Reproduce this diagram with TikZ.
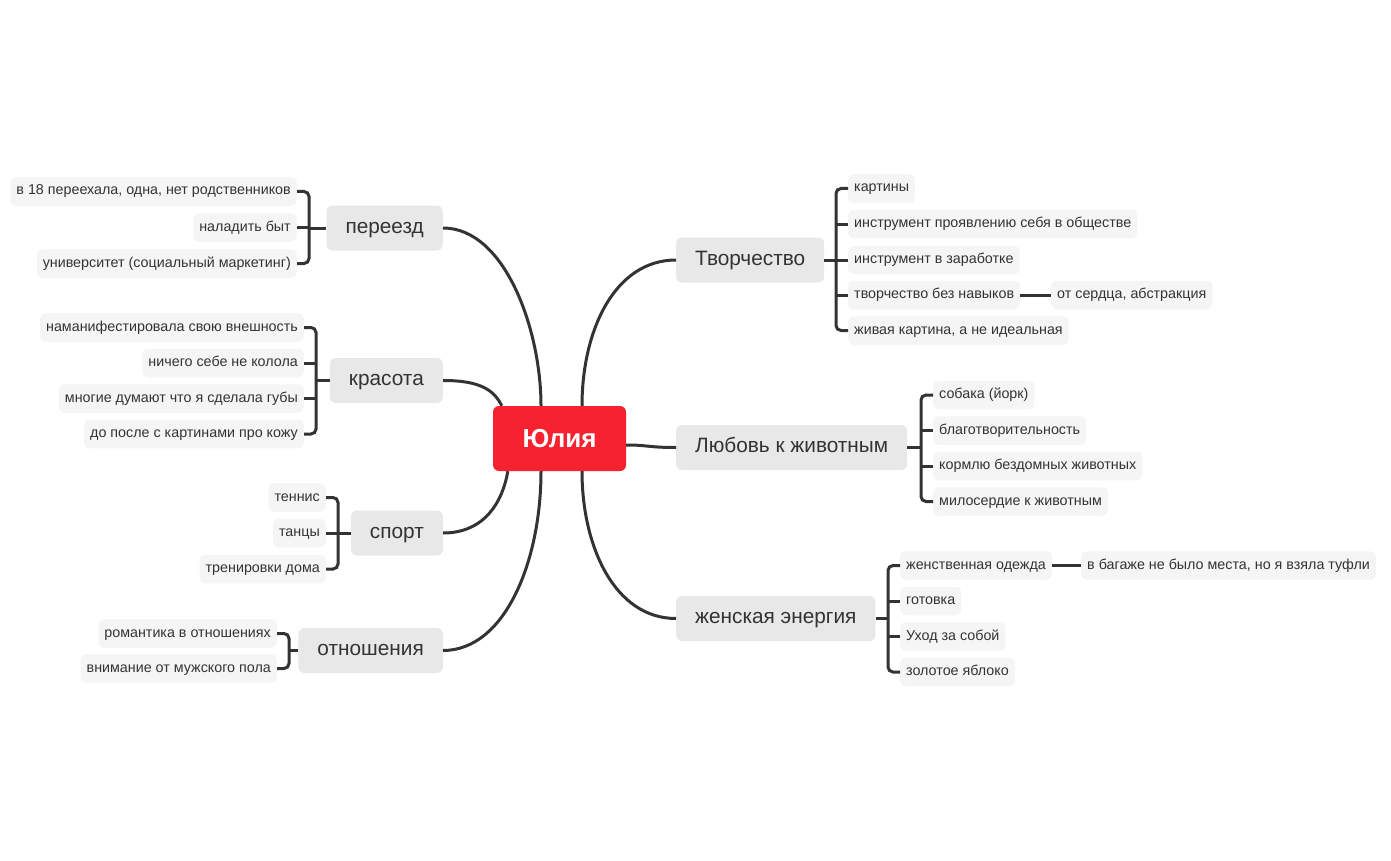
\documentclass[tikz,border=0pt]{standalone}
\usepackage{fontspec}
\setmainfont{Liberation Sans}
\usetikzlibrary{calc}
\definecolor{ink}{HTML}{333333}
\definecolor{leaffill}{HTML}{F5F5F5}
\definecolor{brfill}{HTML}{E8E8E8}
\definecolor{rootred}{HTML}{F7222F}
\tikzset{
  leaf/.style={fill=leaffill, rounded corners=5pt, inner xsep=6pt, inner ysep=0pt,
    minimum height=28.5pt, text height=10pt, text depth=3pt, text=ink,
    font=\fontsize{14.3}{16}\selectfont},
  branch/.style={fill=brfill, rounded corners=6pt, inner xsep=19pt, inner ysep=0pt,
    minimum height=45pt, text height=14.5pt, text depth=4pt, text=ink,
    font=\fontsize{20.8}{24}\selectfont},
  rootbox/.style={fill=rootred, rounded corners=6pt, minimum width=133pt,
    minimum height=65pt, text=white, font=\bfseries\fontsize{26}{30}\selectfont},
  conn/.style={draw=ink, line width=3pt},
  brk/.style={draw=ink, line width=3pt, rounded corners=5pt},
}
\begin{document}
\begin{tikzpicture}[x=1pt,y=-1pt]
\useasboundingbox (0,0) rectangle (1391,861);

% root
\node[rootbox] (c) at (559.5,438.5) {Юлия};

% main branches
\node[branch, anchor=east] (b1) at (443,228) {переезд};
\node[branch, anchor=east] (b2) at (443,380.5) {красота};
\node[branch, anchor=east] (b3) at (443,533) {спорт};
\node[branch, anchor=east] (b4) at (443,650.5) {отношения};
\node[branch, anchor=west] (b5) at (676,260) {Творчество};
\node[branch, anchor=west] (b6) at (676,447.5) {Любовь к животным};
\node[branch, anchor=west] (b7) at (676,618.5) {женская энергия};

% root to branches
\draw[conn] (b1.east) .. controls +(62,0) and +(0,-76) .. ($(c.north)+(-18.5,0)$);
\draw[conn] (b2.east) .. controls +(37,0) and +(-8,-16) .. ($(c.north west)+(9,0)$);
\draw[conn] (b3.east) .. controls +(42,0) and +(-5,30) .. ($(c.south west)+(15,0)$);
\draw[conn] (b4.east) .. controls +(62,0) and +(0,90) .. ($(c.south)+(-18.5,0)$);
\draw[conn] (b5.west) .. controls +(-61,0) and +(0,-76) .. ($(c.north)+(22.5,0)$);
\draw[conn] (b6.west) .. controls +(-28,0) and +(22,0) .. ($(c.east)+(0,6.5)$);
\draw[conn] (b7.west) .. controls +(-61,0) and +(0,76) .. ($(c.south)+(22.5,0)$);

% переезд
\node[leaf, anchor=east] (p1) at (297,191.5) {в 18 переехала, одна, нет родственников};
\node[leaf, anchor=east] (p2) at (297,227.5) {наладить быт};
\node[leaf, anchor=east] (p3) at (297,263.5) {университет (социальный маркетинг)};
\coordinate (j1) at (309,228);
\draw[brk] (p1.east) -| (j1) |- (p3.east);
\draw[conn] (j1) -- (b1.west);
\draw[conn] (p2.east) -- (p2.east -| j1);

% красота
\node[leaf, anchor=east] (k1) at (304,327.5) {наманифестировала свою внешность};
\node[leaf, anchor=east] (k2) at (304,363) {ничего себе не колола};
\node[leaf, anchor=east] (k3) at (304,398.5) {многие думают что я сделала губы};
\node[leaf, anchor=east] (k4) at (304,434) {до после с картинами про кожу};
\coordinate (j2) at (316,380.5);
\draw[brk] (k1.east) -| (j2) |- (k4.east);
\draw[conn] (j2) -- (b2.west);
\draw[conn] (k2.east) -- (k2.east -| j2);
\draw[conn] (k3.east) -- (k3.east -| j2);

% спорт
\node[leaf, anchor=east] (s1) at (326,497.5) {теннис};
\node[leaf, anchor=east] (s2) at (326,533) {танцы};
\node[leaf, anchor=east] (s3) at (326,569) {тренировки дома};
\coordinate (j3) at (338,533);
\draw[brk] (s1.east) -| (j3) |- (s3.east);
\draw[conn] (j3) -- (b3.west);
\draw[conn] (s2.east) -- (j3);

% отношения
\node[leaf, anchor=east] (o1) at (277,633.5) {романтика в отношениях};
\node[leaf, anchor=east] (o2) at (277,668.5) {внимание от мужского пола};
\coordinate (j4) at (289,650.5);
\draw[brk] (o1.east) -| (j4) |- (o2.east);
\draw[conn] (j4) -- (b4.west);

% Творчество
\node[leaf, anchor=west] (t1) at (848,188.5) {картины};
\node[leaf, anchor=west] (t2) at (848,224) {инструмент проявлению себя в обществе};
\node[leaf, anchor=west] (t3) at (848,260) {инструмент в заработке};
\node[leaf, anchor=west] (t4) at (848,295) {творчество без навыков};
\node[leaf, anchor=west] (t5) at (848,330.5) {живая картина, а не идеальная};
\node[leaf, anchor=west] (t4a) at (1051,295) {от сердца, абстракция};
\coordinate (j5) at (836,260);
\draw[brk] (t1.west) -| (j5) |- (t5.west);
\draw[conn] (b5.east) -- (j5);
\draw[conn] (t2.west) -- (t2.west -| j5);
\draw[conn] (t3.west) -- (j5);
\draw[conn] (t4.west) -- (t4.west -| j5);
\draw[conn] (t4.east) -- (t4a.west);

% Любовь к животным
\node[leaf, anchor=west] (l1) at (933,395) {собака (йорк)};
\node[leaf, anchor=west] (l2) at (933,430.5) {благотворительность};
\node[leaf, anchor=west] (l3) at (933,466) {кормлю бездомных животных};
\node[leaf, anchor=west] (l4) at (933,501.5) {милосердие к животным};
\coordinate (j6) at (921,447.5);
\draw[brk] (l1.west) -| (j6) |- (l4.west);
\draw[conn] (b6.east) -- (j6);
\draw[conn] (l2.west) -- (l2.west -| j6);
\draw[conn] (l3.west) -- (l3.west -| j6);

% женская энергия
\node[leaf, anchor=west] (w1) at (900,565.5) {женственная одежда};
\node[leaf, anchor=west] (w2) at (900,601) {готовка};
\node[leaf, anchor=west] (w3) at (900,636.5) {Уход за собой};
\node[leaf, anchor=west] (w4) at (900,672) {золотое яблоко};
\node[leaf, anchor=west] (w1a) at (1081,565.5) {в багаже не было места, но я взяла туфли};
\coordinate (j7) at (888,618.5);
\draw[brk] (w1.west) -| (j7) |- (w4.west);
\draw[conn] (b7.east) -- (j7);
\draw[conn] (w2.west) -- (w2.west -| j7);
\draw[conn] (w3.west) -- (w3.west -| j7);
\draw[conn] (w1.east) -- (w1a.west);
\end{tikzpicture}
\end{document}
